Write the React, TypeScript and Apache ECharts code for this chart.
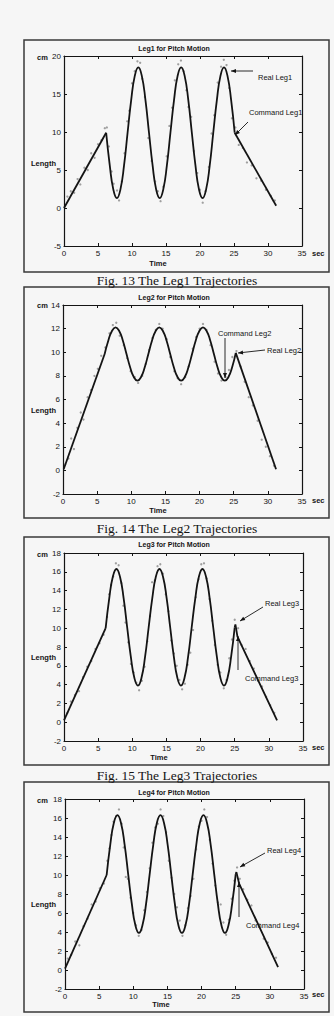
import React, { useEffect, useRef } from "react";
import * as echarts from "echarts";

// ---------- DATA ----------
const xTickLabels = [0, 5, 10, 15, 20, 25, 30, 35];
const titles = ["Leg1 for Pitch Motion", "Leg2 for Pitch Motion", "Leg3 for Pitch Motion", "Leg4 for Pitch Motion"];
const captions = ["Fig. 13 The Leg1 Trajectories", "Fig. 14 The Leg2 Trajectories", "Fig. 15 The Leg3 Trajectories"];
const yRanges = [
  { min: -5, max: 20, interval: 5 },
  { min: -2, max: 14, interval: 2 },
  { min: -2, max: 18, interval: 2 },
  { min: -2, max: 18, interval: 2 },
];

// Leg1 command
const leg1CmdIn = [[0, 0], [6.2, 9.9]];
const leg1CmdWave = [
  [6.2, 9.9], [6.73, 5.6], [7.25, 2.45], [7.78, 1.3], [8.3, 2.45], [8.83, 5.6], [9.35, 9.9], [9.88, 14.2], [10.4, 17.35], [10.93, 18.5], [11.45, 17.35], [11.98, 14.2],
  [12.5, 9.9], [13.03, 5.6], [13.55, 2.45], [14.08, 1.3], [14.6, 2.45], [15.13, 5.6], [15.65, 9.9], [16.18, 14.2], [16.7, 17.35], [17.23, 18.5], [17.75, 17.35], [18.28, 14.2],
  [18.8, 9.9], [19.33, 5.6], [19.85, 2.45], [20.38, 1.3], [20.9, 2.45], [21.43, 5.6], [21.95, 9.9], [22.48, 14.2], [23.0, 17.35], [23.53, 18.5], [24.05, 17.35], [24.58, 14.2],
  [25.1, 9.9],
];
const leg1CmdOut = [[25.1, 9.9], [31.2, 0.3]];
const leg1Real = [
  [0.5, 1.5], [1, 2.2], [1.5, 2.0], [2, 3.8], [2.4, 3.1], [3, 5.3], [3.5, 5.0], [4, 7.2], [4.5, 6.6], [5, 8.4], [5.5, 8.9], [6, 10.5], [6.3, 10.6], [6.6, 8.1], [7, 4.8], [7.3, 3.2], [7.8, 2.3], [8.1, 1.0], [8.5, 3.5], [8.9, 7.2], [9.3, 11.4], [9.6, 12.8], [10, 16.4], [10.4, 18.0], [10.8, 19.3], [11.2, 19.1], [11.5, 17.0], [11.9, 14.6], [12.4, 9.2], [12.9, 6.2], [13.4, 3.5], [13.8, 2.2], [14.2, 0.9], [14.6, 2.8], [15.1, 6.8], [15.5, 10.8], [15.9, 13.2], [16.3, 16.8], [16.8, 18.9], [17.2, 19.4], [17.6, 18.0], [18.0, 15.5], [18.3, 13.3], [18.7, 12.0], [19.1, 7.5], [19.6, 4.6], [20.0, 2.4], [20.4, 0.7], [20.8, 2.2], [21.3, 5.4], [21.7, 9.8], [22.1, 12.2], [22.6, 16.5], [23.1, 18.6], [23.5, 19.5], [23.9, 18.8], [24.3, 15.8], [24.7, 11.8], [25.2, 10.6], [25.7, 8.3], [26.3, 7.9], [26.9, 6.0], [27.6, 5.6], [28.3, 3.9], [29, 3.6], [29.7, 2.4], [30.4, 1.6], [31, 1.0],
];

// Leg2 command
const leg2CmdIn = [[0.1, 0.1], [6.1, 9.85]];
const leg2CmdWave = [
  [6.1, 9.85], [6.63, 10.98], [7.17, 11.8], [7.7, 12.1], [8.23, 11.8], [8.77, 10.98], [9.3, 9.85], [9.83, 8.73], [10.37, 7.9], [10.9, 7.6], [11.43, 7.9], [11.97, 8.73],
  [12.5, 9.85], [13.03, 10.98], [13.57, 11.8], [14.1, 12.1], [14.63, 11.8], [15.17, 10.98], [15.7, 9.85], [16.23, 8.73], [16.77, 7.9], [17.3, 7.6], [17.83, 7.9], [18.37, 8.73],
  [18.9, 9.85], [19.43, 10.98], [19.97, 11.8], [20.5, 12.1], [21.03, 11.8], [21.57, 10.98], [22.1, 9.85], [22.63, 8.73], [23.17, 7.9], [23.7, 7.6], [24.23, 7.9], [24.77, 8.73],
  [25.3, 9.95],
];
const leg2CmdOut = [[25.3, 9.95], [31.2, 0.1]];
const leg2Real = [
  [0.3, 0.5], [0.8, 1.0], [1.2, 2.7], [1.6, 1.8], [2.1, 3.6], [2.6, 4.9], [3.0, 4.3], [3.6, 6.2], [4.1, 6.8], [4.6, 8.0], [5.1, 8.6], [5.6, 9.7], [6.2, 10.4], [6.8, 11.6], [7.3, 12.3], [7.8, 12.5], [8.3, 11.4], [8.9, 10.6], [9.4, 9.5], [9.9, 8.4], [10.5, 7.9], [11.0, 7.4], [11.6, 8.0], [12.1, 9.0], [12.6, 10.2], [13.1, 11.2], [13.6, 11.9], [14.1, 12.4], [14.6, 12.0], [15.2, 11.1], [15.7, 9.6], [16.3, 8.4], [16.8, 7.8], [17.3, 7.3], [17.9, 7.9], [18.4, 8.8], [19.0, 10.3], [19.5, 11.3], [20.0, 12.0], [20.5, 12.4], [21.0, 11.9], [21.6, 10.6], [22.2, 9.2], [22.7, 8.2], [23.2, 7.6], [23.8, 7.9], [24.3, 8.5], [24.8, 9.6], [25.4, 10.1], [26, 8.8], [26.6, 7.5], [27.2, 6.2], [27.8, 5.5], [28.5, 4.2], [29.1, 2.6], [29.7, 2.0], [30.3, 1.2], [30.9, 0.4],
];

// Leg3 command
const leg3CmdIn = [[0, 0.2], [6.1, 10.0]];
const leg3CmdWave = [
  [6.1, 10.0], [6.63, 13.2], [7.15, 15.47], [7.68, 16.3], [8.2, 15.47], [8.73, 13.2], [9.25, 10.1], [9.78, 7.0], [10.3, 4.73], [10.83, 3.9], [11.35, 4.73], [11.88, 7.0],
  [12.4, 10.1], [12.93, 13.2], [13.45, 15.47], [13.98, 16.3], [14.5, 15.47], [15.03, 13.2], [15.55, 10.1], [16.08, 7.0], [16.6, 4.73], [17.13, 3.9], [17.65, 4.73], [18.18, 7.0],
  [18.7, 10.1], [19.23, 13.2], [19.75, 15.47], [20.28, 16.3], [20.8, 15.47], [21.33, 13.2], [21.85, 10.1], [22.38, 7.0], [22.9, 4.73], [23.43, 3.9], [23.95, 4.73], [24.48, 7.0],
  [25.0, 10.1],
];
const leg3CmdOut = [[25.0, 10.1], [25.1, 10.4], [25.4, 9.1], [31.2, 0.2]];
const leg3Real = [
  [0.5, 1.0], [1.0, 2.2], [1.6, 2.9], [2.2, 3.3], [2.8, 4.8], [3.4, 5.9], [4.0, 6.5], [4.6, 7.8], [5.2, 8.4], [5.8, 9.3], [6.3, 11.2], [6.6, 13.6], [6.9, 14.6], [7.2, 15.5], [7.6, 16.9], [8.0, 16.7], [8.4, 14.8], [8.7, 12.4], [9.0, 10.6], [9.4, 8.5], [9.8, 6.2], [10.2, 5.3], [10.6, 4.2], [11.0, 3.4], [11.4, 4.4], [11.8, 5.9], [12.2, 8.6], [12.6, 11.3], [12.9, 14.9], [13.3, 15.1], [13.7, 16.6], [14.1, 16.8], [14.5, 15.8], [14.9, 13.6], [15.3, 11.8], [15.7, 8.7], [16.1, 7.3], [16.5, 6.0], [16.9, 4.5], [17.3, 3.5], [17.7, 4.1], [18.1, 6.1], [18.5, 7.4], [18.9, 9.8], [19.3, 13.3], [19.7, 15.2], [20.1, 16.8], [20.5, 16.9], [20.9, 15.3], [21.3, 13.1], [21.7, 10.8], [22.1, 8.2], [22.5, 6.1], [22.9, 5.3], [23.4, 3.6], [23.8, 4.5], [24.2, 6.8], [24.6, 8.8], [25.0, 10.9], [25.5, 10.0], [26.0, 8.2], [26.6, 7.8], [27.2, 6.5], [27.8, 5.7], [28.4, 4.4], [29.0, 3.8], [29.6, 2.7], [30.2, 1.8], [30.8, 1.0],
];

// Leg4 command
const leg4CmdIn = [[0, 0.15], [6.1, 10.0]];
const leg4CmdWave = [
  [6.1, 10.0], [6.63, 13.2], [7.15, 15.47], [7.68, 16.3], [8.2, 15.47], [8.73, 13.2], [9.25, 10.1], [9.78, 7.0], [10.3, 4.73], [10.83, 3.9], [11.35, 4.73], [11.88, 7.0],
  [12.4, 10.1], [12.93, 13.2], [13.45, 15.47], [13.98, 16.3], [14.5, 15.47], [15.03, 13.2], [15.55, 10.1], [16.08, 7.0], [16.6, 4.73], [17.13, 3.9], [17.65, 4.73], [18.18, 7.0],
  [18.7, 10.1], [19.23, 13.2], [19.75, 15.47], [20.28, 16.3], [20.8, 15.47], [21.33, 13.2], [21.85, 10.1], [22.38, 7.0], [22.9, 4.73], [23.43, 3.9], [23.95, 4.73], [24.48, 7.0],
  [25.0, 10.1],
];
const leg4CmdOut = [[25.0, 10.1], [25.1, 10.3], [25.5, 9.1], [31.2, 0.3]];
const leg4Real = [
  [0.4, 1.2], [0.9, 1.6], [1.5, 3.0], [2.1, 2.6], [2.7, 4.6], [3.3, 5.4], [3.9, 6.9], [4.5, 7.2], [5.1, 8.6], [5.7, 9.1], [6.2, 11.5], [6.5, 12.8], [6.8, 14.2], [7.1, 15.6], [7.5, 16.2], [7.9, 16.9], [8.3, 15.4], [8.6, 12.9], [8.9, 9.8], [9.2, 9.6], [9.6, 7.6], [10.0, 6.0], [10.4, 4.7], [10.8, 3.6], [11.2, 4.2], [11.6, 6.3], [12.0, 8.2], [12.4, 10.7], [12.8, 13.4], [13.2, 15.0], [13.6, 15.4], [14.0, 16.9], [14.4, 16.2], [14.8, 14.5], [15.2, 11.5], [15.6, 9.7], [16.0, 8.0], [16.4, 6.6], [16.8, 5.2], [17.2, 3.6], [17.6, 4.7], [18.0, 6.5], [18.4, 7.8], [18.8, 9.6], [19.2, 12.7], [19.6, 15.1], [20.0, 15.7], [20.4, 16.9], [20.8, 16.1], [21.2, 13.7], [21.6, 11.2], [22.0, 8.9], [22.4, 7.1], [22.8, 6.9], [23.2, 5.0], [23.6, 3.7], [24.0, 5.3], [24.4, 7.5], [24.8, 9.4], [25.2, 10.8], [25.6, 9.6], [26.1, 8.5], [26.7, 7.4], [27.3, 6.8], [27.9, 5.2], [28.5, 4.8], [29.1, 3.3], [29.7, 2.9], [30.3, 1.7], [30.9, 1.3],
];

const commandParts = [
  [leg1CmdIn, leg1CmdWave, leg1CmdOut],
  [leg2CmdIn, leg2CmdWave, leg2CmdOut],
  [leg3CmdIn, leg3CmdWave, leg3CmdOut],
  [leg4CmdIn, leg4CmdWave, leg4CmdOut],
];
const realSeries = [leg1Real, leg2Real, leg3Real, leg4Real];
const realLabels = ["Real Leg1", "Real Leg2", "Real Leg3", "Real Leg4"];
const commandLabels = ["Command Leg1", "Command Leg2", "Command Leg3", "Command Leg4"];

// ---------- LAYOUT (styles/positions) ----------
const layout = [
  { grid: { left: 64, top: 56, width: 238, height: 190 }, frameY: 40, frameH: 232, titleY: 48, cmY: 57, lengthY: 163, secY: 253, timeX: 158, timeY: 263, captionY: 280,
    ann: [{ t: 0, tx: 258, ty: 77, a: [253, 71, 231, 71] }, { t: 1, tx: 249, ty: 112, a: [248, 122, 235, 135] }] },
  { grid: { left: 63, top: 305, width: 239, height: 189 }, frameY: 287, frameH: 231, titleY: 297, cmY: 305, lengthY: 410, secY: 500, timeX: 158, timeY: 510, captionY: 528,
    ann: [{ t: 1, tx: 218, ty: 333, a: [225, 338, 225, 378] }, { t: 0, tx: 267, ty: 350, a: [265, 350, 238, 353] }] },
  { grid: { left: 64, top: 553, width: 239, height: 188 }, frameY: 537, frameH: 228, titleY: 544, cmY: 554, lengthY: 657, secY: 747, timeX: 159, timeY: 757, captionY: 775,
    ann: [{ t: 0, tx: 265, ty: 603, a: [263, 607, 240, 621] }, { t: 1, tx: 245, ty: 678, a: [238, 670, 238, 636] }] },
  { grid: { left: 65, top: 799, width: 239, height: 190 }, frameY: 782, frameH: 230, titleY: 792, cmY: 800, lengthY: 904, secY: 994, timeX: 161, timeY: 1004, captionY: -1,
    ann: [{ t: 0, tx: 267, ty: 850, a: [265, 853, 240, 867] }, { t: 1, tx: 246, ty: 925, a: [239, 917, 239, 882] }] },
];

const INK = "#141414";
const SANS = "Liberation Sans, Arial, sans-serif";

function txt(text: string, x: number, y: number, size: number, opts: any = {}) {
  const align = opts.align || "left";
  return {
    type: "text",
    x, y,
    z: 10,
    style: {
      text,
      fill: opts.fill || INK,
      fontSize: size,
      fontFamily: opts.family || SANS,
      fontWeight: opts.weight || "normal",
      align, textAlign: align,
      verticalAlign: "middle", textVerticalAlign: "middle",
    },
  };
}

function arrow(x1: number, y1: number, x2: number, y2: number) {
  const ang = Math.atan2(y2 - y1, x2 - x1);
  const L = 5, W = 2;
  const c = Math.cos(ang), s = Math.sin(ang);
  return [
    { type: "line", z: 10, shape: { x1, y1, x2, y2 }, style: { stroke: INK, lineWidth: 0.9 } },
    { type: "polygon", z: 10, shape: { points: [[x2, y2], [x2 - L * c + W * s, y2 - L * s - W * c], [x2 - L * c - W * s, y2 - L * s + W * c]] }, style: { fill: INK } },
  ];
}

function buildOption() {
  const grids: any[] = [];
  const xAxes: any[] = [];
  const yAxes: any[] = [];
  const series: any[] = [];
  const graphics: any[] = [];
  const axisLine = { show: true, onZero: false, lineStyle: { color: INK, width: 1.2 } };
  const tick = { show: true, inside: true, length: 3, lineStyle: { color: INK, width: 1 } };

  layout.forEach((L, i) => {
    grids.push({ ...L.grid, containLabel: false });
    const yr = yRanges[i];
    xAxes.push({
      gridIndex: i, type: "value", min: 0, max: 35, interval: 5, position: "bottom",
      axisLine, axisTick: tick, splitLine: { show: false },
      axisLabel: { show: true, fontSize: 8, color: INK, fontFamily: SANS, margin: 3,
        formatter: (v: number) => (xTickLabels.includes(v) ? String(v) : "") },
    });
    xAxes.push({
      gridIndex: i, type: "value", min: 0, max: 35, interval: 5, position: "top",
      axisLine, axisTick: tick, splitLine: { show: false }, axisLabel: { show: false },
    });
    yAxes.push({
      gridIndex: i, type: "value", min: yr.min, max: yr.max, interval: yr.interval, position: "left",
      axisLine, axisTick: tick, splitLine: { show: false },
      axisLabel: { show: true, fontSize: 8, color: INK, fontFamily: SANS, margin: 3 },
    });
    yAxes.push({
      gridIndex: i, type: "value", min: yr.min, max: yr.max, interval: yr.interval, position: "right",
      axisLine, axisTick: tick, splitLine: { show: false }, axisLabel: { show: false },
    });

    series.push({
      name: realLabels[i], type: "scatter", xAxisIndex: i * 2, yAxisIndex: i * 2,
      data: realSeries[i], symbol: "circle", symbolSize: 2.3,
      itemStyle: { color: "#8a8a8a" }, silent: true,
    });
    commandParts[i].forEach((part, k) => {
      series.push({
        name: commandLabels[i], type: "line", xAxisIndex: i * 2, yAxisIndex: i * 2,
        data: part, showSymbol: false, smooth: k === 1 ? 0.5 : false,
        lineStyle: { color: INK, width: 1.8 }, silent: true,
      });
    });

    graphics.push({ type: "rect", z: 1, shape: { x: 24, y: L.frameY, width: 305, height: L.frameH },
      style: { fill: "none", stroke: "#3a3a3a", lineWidth: 1.5 } });
    graphics.push(txt(titles[i], 174, L.titleY, 7, { align: "center", weight: "bold" }));
    graphics.push(txt("cm", 37, L.cmY, 7.5, { weight: "bold" }));
    graphics.push(txt("Length", 31, L.lengthY, 7.5, { weight: "bold" }));
    graphics.push(txt("sec", 312, L.secY, 7.5, { weight: "bold" }));
    graphics.push(txt("Time", L.timeX, L.timeY, 7.5, { align: "center", weight: "bold" }));
    if (L.captionY > 0) {
      graphics.push(txt(captions[i], 177, L.captionY, 13.5, { align: "center", family: "Liberation Serif, Times New Roman, serif" }));
    }
    L.ann.forEach((a) => {
      graphics.push(txt(a.t === 0 ? realLabels[i] : commandLabels[i], a.tx, a.ty, 7.5));
      arrow(a.a[0], a.a[1], a.a[2], a.a[3]).forEach((g) => graphics.push(g));
    });
  });

  return {
    animation: false,
    backgroundColor: "#f6f6f6",
    grid: grids,
    xAxis: xAxes,
    yAxis: yAxes,
    series,
    graphic: { elements: graphics },
  };
}

export default function App() {
  const ref = useRef<HTMLDivElement>(null);
  useEffect(() => {
    if (!ref.current) return;
    const chart = echarts.init(ref.current, undefined, { renderer: "svg" });
    chart.setOption(buildOption() as any);
    return () => chart.dispose();
  }, []);
  return (
    <div
      ref={ref}
      style={{ position: "absolute", left: 0, top: 0, width: 334, height: 1016, background: "#f6f6f6" }}
    />
  );
}
